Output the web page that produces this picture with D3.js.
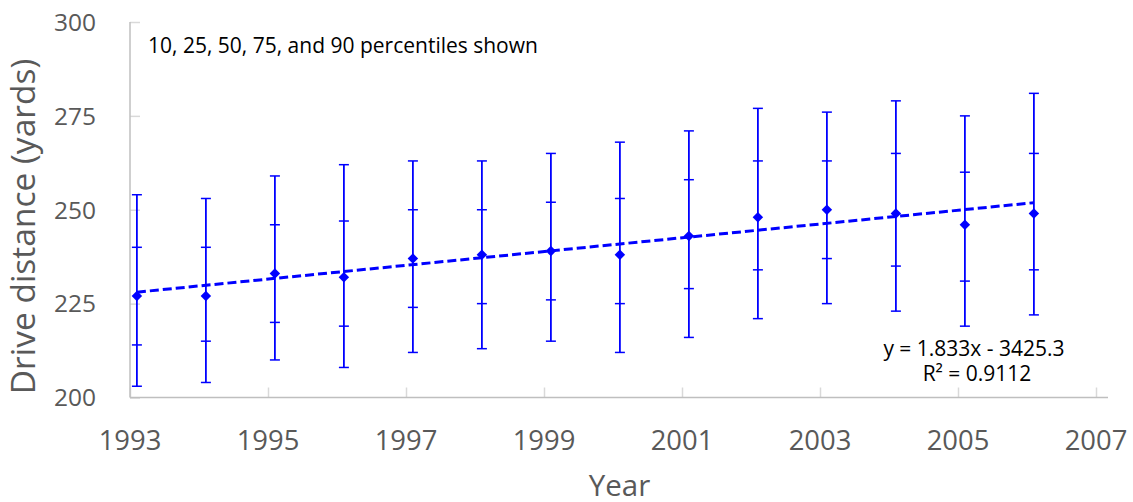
<!DOCTYPE html>
<html>
<head>
<meta charset="utf-8">
<script src="https://cdn.jsdelivr.net/npm/d3@7"></script>
<style>
  html, body { margin: 0; padding: 0; background: #fff; }
  svg { display: block; }
  text { font-family: "Open Sans", "DejaVu Sans", sans-serif; }
</style>
</head>
<body>
<svg id="chart" width="1133" height="502"></svg>
<script>
// Drive distance percentiles by season
const seasons = [1993.1, 1994.1, 1995.1, 1996.1, 1997.1, 1998.1, 1999.1, 2000.1, 2001.1, 2002.1, 2003.1, 2004.1, 2005.1, 2006.1];
const p10 = [203, 204, 210, 208, 212, 213, 215, 212, 216, 221, 225, 223, 219, 222];
const p25 = [214, 215, 220, 219, 224, 225, 226, 225, 229, 234, 237, 235, 231, 234];
const p50 = [227, 227, 233, 232, 237, 238, 239, 238, 243, 248, 250, 249, 246, 249];
const p75 = [240, 240, 246, 247, 250, 250, 252, 253, 258, 263, 263, 265, 260, 265];
const p90 = [254, 253, 259, 262, 263, 263, 265, 268, 271, 277, 276, 279, 275, 281];

const xTicks = [1993, 1995, 1997, 1999, 2001, 2003, 2005, 2007];
const yTicks = [200, 225, 250, 275, 300];

// Linear fit reported on the chart
const slope = 1.833;
const intercept = -3425.3;
const rSquared = 0.9112;

const rows = seasons.map((s, i) => ({
  x: s, p10: p10[i], p25: p25[i], p50: p50[i], p75: p75[i], p90: p90[i]
}));

const svg = d3.select("#chart");
const blue = "#0000FF";
const axisGrey = "#BFBFBF";
const labelGrey = "#595959";

const x = d3.scaleLinear().domain([1993, 2007]).range([130, 1096]);
const y = d3.scaleLinear().domain([200, 300]).range([397.5, 22]);

// Axes (ticks point into the plot area)
const yAxis = svg.append("g").attr("transform", `translate(${x(1993)},0)`)
  .call(d3.axisRight(y).tickValues(yTicks).tickSize(10).tickFormat(""));
yAxis.select(".domain").remove();
yAxis.selectAll(".tick line").attr("stroke", "#D9D9D9").attr("stroke-width", 1.5);

const xAxis = svg.append("g").attr("transform", `translate(0,${y(200)})`)
  .call(d3.axisTop(x).tickValues(xTicks).tickSize(10).tickFormat(""));
xAxis.select(".domain").remove();
xAxis.selectAll(".tick line").attr("stroke", "#D9D9D9").attr("stroke-width", 1.5);

svg.append("line")
  .attr("x1", x(1993)).attr("x2", x(1993))
  .attr("y1", y(300)).attr("y2", y(200))
  .attr("stroke", axisGrey).attr("stroke-width", 1.5);
svg.append("line")
  .attr("x1", x(1993)).attr("x2", x(2007) + 12)
  .attr("y1", y(200)).attr("y2", y(200))
  .attr("stroke", axisGrey).attr("stroke-width", 1.5);

// Tick labels
svg.append("g").selectAll("text").data(yTicks).join("text")
  .attr("x", 96).attr("y", d => y(d) + 8.8)
  .attr("text-anchor", "end").attr("fill", labelGrey)
  .style("font-size", "24.5px").text(d => d);

svg.append("g").selectAll("text").data(xTicks).join("text")
  .attr("x", d => x(d)).attr("y", 450)
  .attr("text-anchor", "middle").attr("fill", labelGrey)
  .style("font-size", "27.4px").text(d => d);

// Axis titles
svg.append("text")
  .attr("transform", `translate(35,226.5) rotate(-90)`)
  .attr("text-anchor", "middle").attr("fill", labelGrey)
  .style("font-size", "33.5px").text("Drive distance (yards)");
svg.append("text")
  .attr("x", 619.5).attr("y", 496)
  .attr("text-anchor", "middle").attr("fill", labelGrey)
  .style("font-size", "29.5px").text("Year");

// Percentile whiskers: 10–90 with caps, plus caps at 25 and 75
const bars = svg.append("g");
bars.selectAll("line.range").data(rows).join("line")
  .attr("class", "range")
  .attr("x1", d => x(d.x)).attr("x2", d => x(d.x))
  .attr("y1", d => y(d.p90)).attr("y2", d => y(d.p10))
  .attr("stroke", blue).attr("stroke-width", 1.8);

const capKeys = ["p10", "p25", "p75", "p90"];
capKeys.forEach(k => {
  bars.selectAll(`line.cap-${k}`).data(rows).join("line")
    .attr("class", `cap-${k}`)
    .attr("x1", d => x(d.x) - 5).attr("x2", d => x(d.x) + 5)
    .attr("y1", d => y(d[k])).attr("y2", d => y(d[k]))
    .attr("stroke", blue).attr("stroke-width", 1.5);
});

// Trend line
const xMin = d3.min(seasons), xMax = d3.max(seasons);
svg.append("line")
  .attr("x1", x(xMin)).attr("y1", y(slope * xMin + intercept))
  .attr("x2", x(xMax)).attr("y2", y(slope * xMax + intercept))
  .attr("stroke", blue).attr("stroke-width", 3)
  .attr("stroke-dasharray", "9,4");

// Median markers
svg.append("g").selectAll("path").data(rows).join("path")
  .attr("transform", d => `translate(${x(d.x)},${y(d.p50)})`)
  .attr("d", d3.symbol(d3.symbolDiamond2, 70))
  .attr("fill", blue);

// Annotations
svg.append("text")
  .attr("x", 148).attr("y", 53).attr("fill", "#000")
  .style("font-size", "21px").text("10, 25, 50, 75, and 90 percentiles shown");

const eq = svg.append("text").attr("text-anchor", "middle").attr("fill", "#000")
  .style("font-size", "21px");
eq.append("tspan").attr("x", 974).attr("y", 356)
  .text(`y = ${slope}x - ${Math.abs(intercept)}`);
eq.append("tspan").attr("x", 977).attr("y", 381)
  .text(`R² = ${rSquared}`);
</script>
</body>
</html>
